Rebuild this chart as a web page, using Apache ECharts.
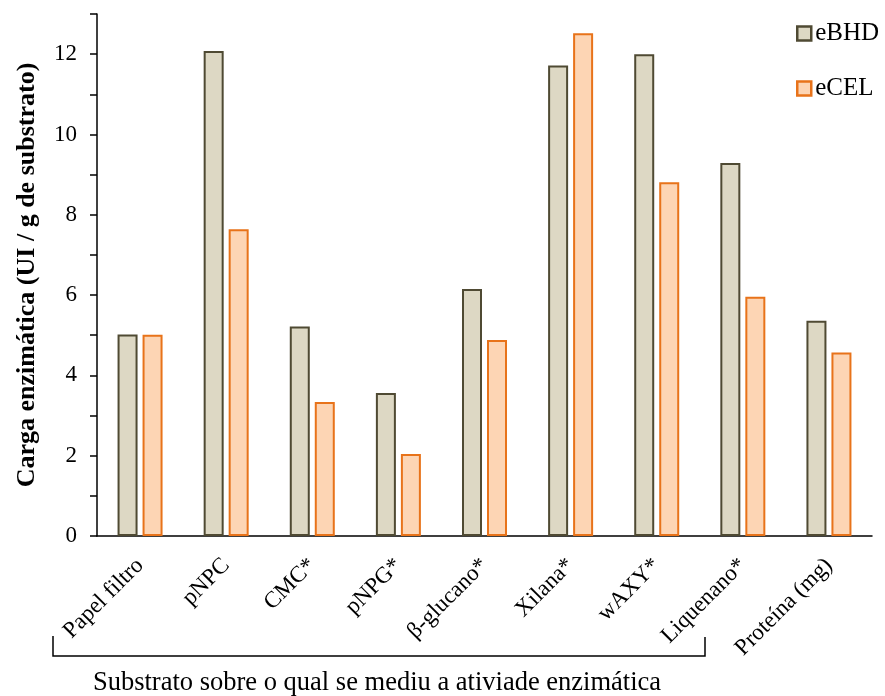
<!DOCTYPE html>
<html><head><meta charset="utf-8">
<script src="https://cdn.jsdelivr.net/npm/echarts@6/dist/echarts.min.js"></script>
<style>html,body{margin:0;padding:0;background:#fff}#c{width:885px;height:696px}</style>
</head><body><div id="c"></div>
<script>
const categories = ['Papel filtro','pNPC','CMC*','pNPG*','β-glucano*','Xilana*','wAXY*','Liquenano*','Proteína (mg)'];
const eBHD = [5.02, 12.08, 5.22, 3.56, 6.15, 11.72, 12.0, 9.29, 5.36];
const eCEL = [5.01, 7.64, 3.34, 2.04, 4.88, 12.52, 8.81, 5.96, 4.57];
const yTicks = {min: 0, max: 13, interval: 1};

const F = '"Liberation Serif","Times New Roman",serif';
const chart = echarts.init(document.getElementById('c'));
chart.setOption({
  animation: false,
  grid: {left: 97, right: 13, top: 14, bottom: 160},
  legend: {
    orient: 'vertical', left: 791, top: 16, itemGap: 30,
    itemWidth: 14, itemHeight: 14, icon: 'rect',
    textStyle: {fontFamily: F, fontSize: 25, color: '#000', padding: [0,0,0,-1]},
    data: [
      {name: 'eBHD', itemStyle: {color: '#ddd8c4', borderColor: '#4f4a33', borderWidth: 2.5}},
      {name: 'eCEL', itemStyle: {color: '#fdd5b4', borderColor: '#e8731a', borderWidth: 2.5}}
    ]
  },
  xAxis: {
    type: 'category', data: categories,
    axisLine: {lineStyle: {color: '#000', width: 1.5}},
    axisTick: {show: false},
    axisLabel: {rotate: 45, fontFamily: F, fontSize: 23, color: '#000', margin: 26, interval: 0}
  },
  yAxis: {
    type: 'value', min: yTicks.min, max: yTicks.max, interval: yTicks.interval,
    name: 'Carga enzimática (UI / g de substrato)', nameLocation: 'middle', nameGap: 57,
    nameTextStyle: {fontFamily: F, fontSize: 26, fontWeight: 'bold', color: '#000'},
    axisLine: {show: true, lineStyle: {color: '#000', width: 1.5}},
    axisTick: {show: true, length: 7, lineStyle: {color: '#000', width: 1.5}},
    splitLine: {show: false},
    axisLabel: {fontFamily: F, fontSize: 23, color: '#000', margin: 20,
      formatter: v => (v % 2 === 0 ? String(v) : '')}
  },
  series: [
    {name: 'eBHD', type: 'bar', data: eBHD, barWidth: 20, barGap: '25%', barCategoryGap: '48%',
     itemStyle: {color: '#ddd8c4', borderColor: '#4f4a33', borderWidth: 2}},
    {name: 'eCEL', type: 'bar', data: eCEL, barWidth: 20, barGap: '25%',
     itemStyle: {color: '#fdd5b4', borderColor: '#e8731a', borderWidth: 2}}
  ],
  graphic: [
    {type: 'polyline', shape: {points: [[53,636],[53,656],[705,656],[705,637]]},
     style: {stroke: '#000', lineWidth: 1.5, fill: null}},
    {type: 'text', style: {text: 'Substrato sobre o qual se mediu a ativiade enzimática',
      font: '26.5px ' + F, fill: '#000', textAlign: 'center', textVerticalAlign: 'middle', x: 377, y: 683}}
  ]
});
</script></body></html>
